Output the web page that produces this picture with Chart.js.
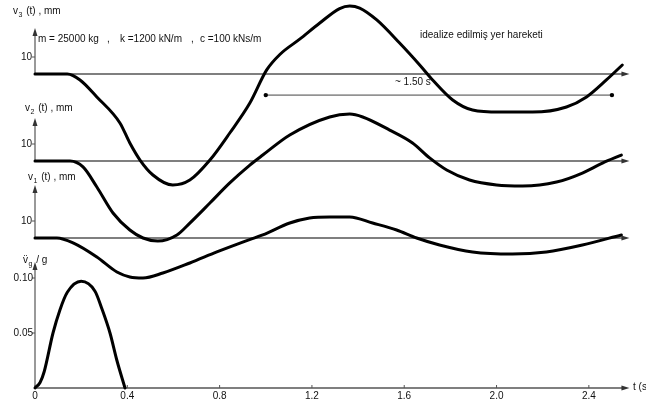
<!DOCTYPE html>
<html>
<head>
<meta charset="utf-8">
<script src="https://cdn.jsdelivr.net/npm/chart.js@4.4.1/dist/chart.umd.min.js"></script>
<style>
html, body { margin: 0; padding: 0; background: #fff; }
#wrap { width: 646px; height: 403px; position: relative; }
</style>
</head>
<body>
<div id="wrap"><canvas id="grafico"></canvas></div>
<script>
// v3(t), mm
const t3 = [0, 0.14, 0.195, 0.268, 0.368, 0.411, 0.455, 0.511, 0.597, 0.671, 0.758, 0.844, 0.931, 1.004, 1.061, 1.147, 1.234, 1.32, 1.364, 1.407, 1.481, 1.58, 1.667, 1.723, 1.81, 1.896, 2.013, 2.156, 2.303, 2.39, 2.476, 2.545];
const v3 = [0, 0, -3.5, -13.5, -28.8, -40.6, -50.6, -59.4, -65.3, -62.4, -50.6, -34.7, -17.1, 2.4, 11.5, 20.5, 30, 38.5, 40, 38.8, 31.8, 18.2, 5.3, -3.5, -15.3, -21.2, -22.4, -22.4, -19.4, -13.5, -3.5, 5.3];
// v2(t), mm
const t2 = [0, 0.152, 0.208, 0.268, 0.338, 0.411, 0.468, 0.532, 0.615, 0.671, 0.758, 0.844, 0.931, 0.987, 1.104, 1.277, 1.364, 1.42, 1.537, 1.636, 1.71, 1.784, 1.883, 2.0, 2.113, 2.26, 2.372, 2.459, 2.541];
const v2 = [0, 0, -3.5, -15.3, -30.6, -40.6, -45.3, -47.1, -43.5, -36.5, -24.7, -12.9, -2.4, 3.5, 15.3, 25.9, 27.6, 25.9, 18.2, 10.6, 1.8, -5.3, -11.2, -14.1, -14.7, -12.4, -7.1, -1.2, 3.5];
// v1(t), mm
const t1 = [0, 0.095, 0.165, 0.268, 0.355, 0.411, 0.468, 0.554, 0.671, 0.788, 0.9, 0.987, 1.104, 1.19, 1.277, 1.364, 1.463, 1.567, 1.654, 1.753, 1.896, 2.069, 2.216, 2.372, 2.541];
const v1 = [0, 0, -2.9, -11.2, -20, -22.9, -23.5, -20.6, -14.7, -8.2, -2.4, 1.8, 8.8, 11.8, 12.4, 12.4, 8.8, 4.7, 0, -4.1, -8.2, -9.4, -8.2, -4.1, 1.8];
// ivme / g
const tg = [0, 0.022, 0.04, 0.078, 0.108, 0.14, 0.2, 0.26, 0.29, 0.325, 0.355, 0.39];
const ag = [0, 0.005, 0.015, 0.05, 0.071, 0.087, 0.097, 0.088, 0.072, 0.05, 0.025, 0];

const xTicks = [0, 0.4, 0.8, 1.2, 1.6, 2.0, 2.4];
const mmTicks = [10];
const gTicks = [0.05, 0.10];
const periodMarks = [1.0, 2.5];

// sayfa yerlesimi (piksel)
const TOP = 2, BOTTOM = 388;
const MM_PX = 1.7, G_PX = 1100;
const base3 = 74, base2 = 161, base1 = 238;
const X_END = 2.576;

function pts(t, v) {
    var out = [];
    for (var i = 0; i < t.length; i++) out.push({ x: t[i], y: v[i] });
    return out;
}

function dispAxis(basePx) {
    return { type: 'linear', display: false, min: -(BOTTOM - basePx) / MM_PX, max: (basePx - TOP) / MM_PX };
}

function serie(data, axis) {
    return {
        data: data, yAxisID: axis, borderColor: '#000', borderWidth: 3,
        pointRadius: 0, cubicInterpolationMode: 'monotone', fill: false, clip: false,
        borderCapStyle: 'round', borderJoinStyle: 'round'
    };
}

function arrowR(ctx, x, y) {
    ctx.beginPath(); ctx.moveTo(x, y); ctx.lineTo(x - 8, y - 2.5); ctx.lineTo(x - 8, y + 2.5); ctx.closePath(); ctx.fill();
}
function arrowU(ctx, x, y) {
    ctx.beginPath(); ctx.moveTo(x, y); ctx.lineTo(x - 2.5, y + 8); ctx.lineTo(x + 2.5, y + 8); ctx.closePath(); ctx.fill();
}

function subLabel(ctx, x, y, main, sub, rest) {
    ctx.textAlign = 'left';
    ctx.textBaseline = 'middle';
    ctx.font = '10px "Liberation Sans", Arial, sans-serif';
    ctx.fillText(main, x, y);
    var w = ctx.measureText(main).width;
    ctx.font = '7px "Liberation Sans", Arial, sans-serif';
    ctx.fillText(sub, x + w + 0.5, y + 4);
    var w2 = ctx.measureText(sub).width;
    ctx.font = '10px "Liberation Sans", Arial, sans-serif';
    ctx.fillText(rest, x + w + w2 + 1.5, y);
}

const ejes = {
    id: 'ejes',
    beforeDatasetsDraw: function (chart) {
        var ctx = chart.ctx, xs = chart.scales.x;
        var x0 = xs.getPixelForValue(0), xe = xs.getPixelForValue(X_END);
        ctx.save();
        ctx.strokeStyle = '#555';
        ctx.fillStyle = '#333';
        ctx.lineWidth = 1.5;
        // lineas base con flecha
        [[base3, 46], [base2, 43], [base1, 53]].forEach(function (b) {
            ctx.beginPath(); ctx.moveTo(x0, b[0]); ctx.lineTo(xe - 4, b[0]); ctx.stroke();
            arrowR(ctx, xe, b[0]);
            ctx.lineWidth = 1.2;
            ctx.beginPath(); ctx.moveTo(x0, b[0]); ctx.lineTo(x0, b[0] - b[1] + 4); ctx.stroke();
            arrowU(ctx, x0, b[0] - b[1]);
            ctx.lineWidth = 1.5;
        });
        // eje inferior
        ctx.beginPath(); ctx.moveTo(x0, BOTTOM); ctx.lineTo(xe - 4, BOTTOM); ctx.stroke();
        arrowR(ctx, xe, BOTTOM);
        ctx.lineWidth = 1.2;
        ctx.beginPath(); ctx.moveTo(x0, BOTTOM); ctx.lineTo(x0, 267); ctx.stroke();
        arrowU(ctx, x0, 262);
        ctx.lineWidth = 1;
        xTicks.forEach(function (v) {
            var px = xs.getPixelForValue(v);
            ctx.beginPath(); ctx.moveTo(px, BOTTOM); ctx.lineTo(px, BOTTOM - 3); ctx.stroke();
        });
        // marcas en y
        ['y3', 'y2', 'y1'].forEach(function (id) {
            mmTicks.forEach(function (v) {
                var py = chart.scales[id].getPixelForValue(v);
                ctx.beginPath(); ctx.moveTo(x0 - 3, py); ctx.lineTo(x0, py); ctx.stroke();
            });
        });
        gTicks.forEach(function (v) {
            var py = chart.scales.ya.getPixelForValue(v);
            ctx.beginPath(); ctx.moveTo(x0 - 3, py); ctx.lineTo(x0, py); ctx.stroke();
        });
        // periodo ~1.50 s
        var py = chart.scales.y3.getPixelForValue(-12.4);
        var pa = xs.getPixelForValue(periodMarks[0]), pb = xs.getPixelForValue(periodMarks[1]);
        ctx.strokeStyle = '#444';
        ctx.beginPath(); ctx.moveTo(pa, py); ctx.lineTo(pb, py); ctx.stroke();
        ctx.fillStyle = '#000';
        [pa, pb].forEach(function (p) {
            ctx.beginPath(); ctx.arc(p, py, 2.2, 0, Math.PI * 2); ctx.fill();
        });
        ctx.restore();
    },
    afterDraw: function (chart) {
        var ctx = chart.ctx, xs = chart.scales.x;
        var x0 = xs.getPixelForValue(0);
        ctx.save();
        ctx.fillStyle = '#111';
        ctx.font = '10px "Liberation Sans", Arial, sans-serif';
        ctx.textAlign = 'right';
        ctx.textBaseline = 'middle';
        ['y3', 'y2', 'y1'].forEach(function (id) {
            mmTicks.forEach(function (v) {
                ctx.fillText(String(v), x0 - 3, chart.scales[id].getPixelForValue(v));
            });
        });
        gTicks.forEach(function (v) {
            ctx.fillText(v.toFixed(2), x0 - 2, chart.scales.ya.getPixelForValue(v));
        });
        subLabel(ctx, 13, 11, 'v', '3', ' (t) , mm');
        subLabel(ctx, 25, 108, 'v', '2', ' (t) , mm');
        subLabel(ctx, 28, 177, 'v', '1', ' (t) , mm');
        subLabel(ctx, 23, 260, 'v\u0308', 'g', ' / g');
        ctx.font = '10px "Liberation Sans", Arial, sans-serif';
        ctx.textAlign = 'left';
        ctx.fillText('m = 25000 kg', 38, 39);
        ctx.fillText(',', 107, 39);
        ctx.fillText('k =1200 kN/m', 120, 39);
        ctx.fillText(',', 191, 39);
        ctx.fillText('c =100 kNs/m', 200, 39);
        ctx.fillText('idealize edilmiş yer hareketi', 420, 35);
        ctx.fillText('~ 1.50 s', 395, 82);
        ctx.fillText('t (s)', 633, 387);
        ctx.restore();
    }
};

new Chart(document.getElementById('grafico'), {
    type: 'line',
    data: {
        datasets: [
            serie(pts(t3, v3), 'y3'),
            serie(pts(t2, v2), 'y2'),
            serie(pts(t1, v1), 'y1'),
            serie(pts(tg, ag), 'ya')
        ]
    },
    options: {
        responsive: true,
        maintainAspectRatio: false,
        animation: false,
        layout: { padding: { left: 35, right: 11, top: TOP, bottom: 0 } },
        plugins: { legend: { display: false }, tooltip: { enabled: false } },
        scales: {
            x: {
                type: 'linear', min: 0, max: 2.6,
                grid: { display: false, drawTicks: false },
                border: { display: false },
                afterFit: function (s) { s.height = 403 - BOTTOM; },
                afterBuildTicks: function (s) { s.ticks = xTicks.map(function (v) { return { value: v }; }); },
                ticks: {
                    padding: 2, color: '#111', maxRotation: 0, autoSkip: false,
                    font: { family: '"Liberation Sans", Arial, sans-serif', size: 10 },
                    callback: function (v) { return v === 0 ? '0' : v.toFixed(1); }
                }
            },
            y3: dispAxis(base3),
            y2: dispAxis(base2),
            y1: dispAxis(base1),
            ya: { type: 'linear', display: false, min: 0, max: (BOTTOM - TOP) / G_PX }
        }
    },
    plugins: [ejes]
});
</script>
</body>
</html>
